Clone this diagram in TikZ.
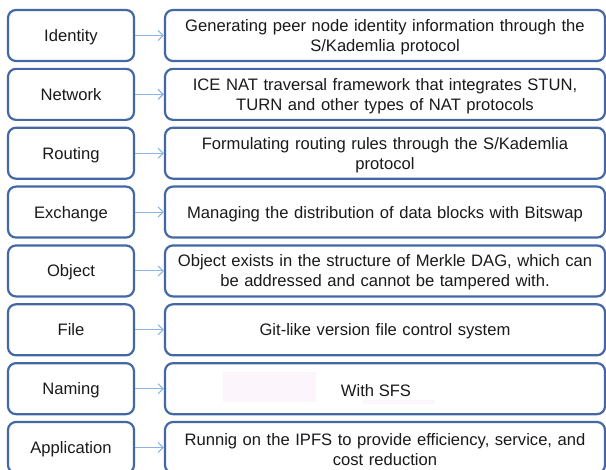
\documentclass[tikz,border=0pt]{standalone}
\usepackage{fontspec}
\setmainfont{Liberation Sans}
\usetikzlibrary{arrows.meta}
\definecolor{boxblue}{HTML}{4468A6}
\definecolor{arrblue}{HTML}{8DB3E2}
\definecolor{txt}{HTML}{1A1A1A}
\definecolor{faintpink}{HTML}{FCF6FC}
\begin{document}
\begin{tikzpicture}[x=1pt,y=-1pt,
  every node/.style={font=\fontsize{16.6}{20}\selectfont, text=txt},
  lbox/.style={draw=boxblue, line width=2.2pt, rounded corners=8pt, minimum width=126pt, minimum height=51pt, inner sep=0pt, fill=white, text depth=0pt},
  rbox/.style={draw=boxblue, line width=2.2pt, rounded corners=8pt, minimum width=440pt, minimum height=51pt, inner sep=0pt, fill=white},
  rtext/.style={inner sep=0pt, align=center, text width=430pt},
  arr/.style={draw=arrblue, line width=1.1pt, -{Straight Barb[length=5pt,width=10pt,line width=1.1pt]}}
]
\clip (0,0) rectangle (606,470);
\fill[white] (0,0) rectangle (606,470);
\foreach \i/\l/\r in {
  1/Identity/{Generating peer node identity information through the\\S/Kademlia protocol},
  2/Network/{ICE NAT traversal framework that integrates STUN,\\TURN and other types of NAT protocols},
  3/Routing/{Formulating routing rules through the S/Kademlia\\protocol},
  4/Exchange/{Managing the distribution of data blocks with Bitswap},
  5/Object/{Object exists in the structure of Merkle DAG, which can\\be addressed and cannot be tampered with.},
  6/File/{Git-like version file control system},
  7/Naming/{},
  8/Application/{Runnig on the IPFS to provide efficiency, service, and\\cost reduction}}{
  \pgfmathsetmacro{\yy}{35.5+58.86*(\i-1)}
  \node[lbox] (l\i) at (71,\yy) {\l};
  \node[rbox] (r\i) at (385,\yy) {};
  \node[rtext] (t\i) at ([yshift=-1.7pt]r\i.center) {\r};
  \draw[arr] (l\i.east) -- (r\i.west);
}
\fill[faintpink] (223,372) rectangle (316,402);
\fill[faintpink] (363,400) rectangle (435,404);
\node[inner sep=0pt] (sfs) at ([xshift=-9pt,yshift=-1.7pt]r7.center) {With SFS};
\end{tikzpicture}
\end{document}
